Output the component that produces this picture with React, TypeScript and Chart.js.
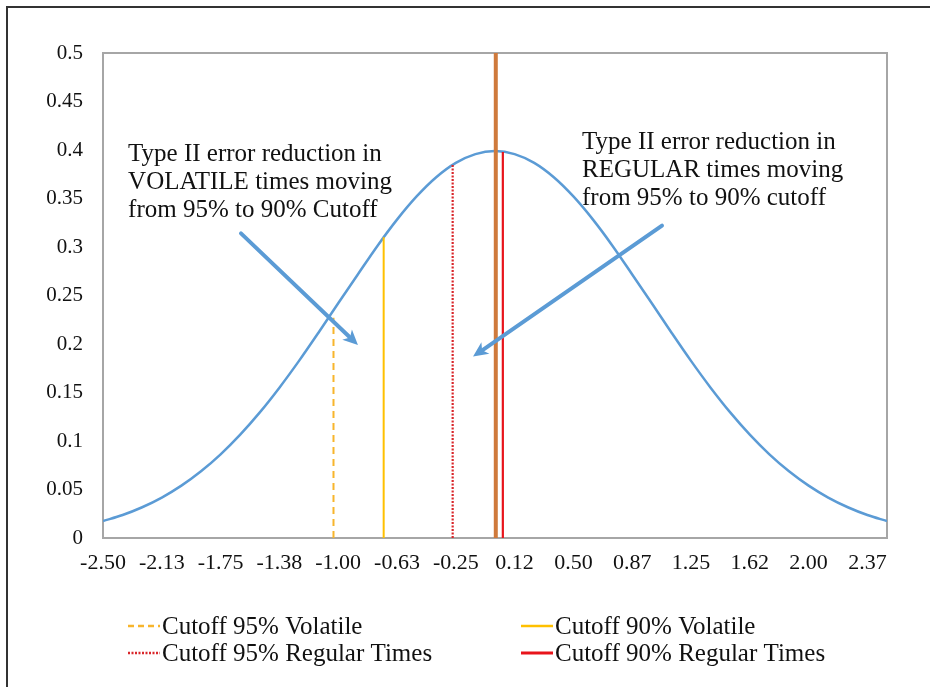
import React, { useEffect, useRef } from "react";
import { Chart, registerables } from "chart.js";

Chart.register(...registerables);

const X_VALUES = [
  -2.5, -2.375, -2.25, -2.125, -2.0, -1.875, -1.75, -1.625, -1.5, -1.375, -1.25,
  -1.125, -1.0, -0.875, -0.75, -0.625, -0.5, -0.375, -0.25, -0.125, 0.0,
  0.125, 0.25, 0.375, 0.5, 0.625, 0.75, 0.875, 1.0, 1.125, 1.25,
  1.375, 1.5, 1.625, 1.75, 1.875, 2.0, 2.125, 2.25, 2.375, 2.5,
];
const DENSITY = [
  0.0175, 0.0237, 0.0317, 0.0417, 0.054, 0.0688, 0.0863, 0.1066, 0.1295, 0.155, 0.1826,
  0.2119, 0.242, 0.2717, 0.3011, 0.3282, 0.3521, 0.3719, 0.3867, 0.3958, 0.3989,
  0.3958, 0.3867, 0.3719, 0.3521, 0.3282, 0.3011, 0.2717, 0.242, 0.2119, 0.1826,
  0.155, 0.1295, 0.1066, 0.0863, 0.0688, 0.054, 0.0417, 0.0317, 0.0237, 0.0175,
];

const X_TICKS = [-2.5, -2.125, -1.75, -1.375, -1.0, -0.625, -0.25, 0.125, 0.5, 0.875, 1.25, 1.625, 2.0, 2.375];
const X_TICK_LABELS = ["-2.50", "-2.13", "-1.75", "-1.38", "-1.00", "-0.63", "-0.25", "0.12", "0.50", "0.87", "1.25", "1.62", "2.00", "2.37"];
const Y_TICK_LABELS = ["0", "0.05", "0.1", "0.15", "0.2", "0.25", "0.3", "0.35", "0.4", "0.45", "0.5"];

// cutoff lines: [x, height]
const CUTOFF_95_VOLATILE = [-1.03, 0.227];
const CUTOFF_90_VOLATILE = [-0.71, 0.31];
const CUTOFF_95_REGULAR = [-0.27, 0.385];
const CUTOFF_90_REGULAR = [0.05, 0.398];
const CENTER_LINE = [0.005, 0.5];

const SERIES_NAMES = ["Cutoff 95% Volatile", "Cutoff 90% Volatile", "Cutoff 95% Regular Times", "Cutoff 90% Regular Times"];

const ANNOTATION_LEFT = ["Type II error reduction in", "VOLATILE times moving", "from 95% to 90% Cutoff"];
const ANNOTATION_RIGHT = ["Type II error reduction in", "REGULAR times moving", "from 95% to 90% cutoff"];
// [x, y] data coordinates
const ANNOTATION_LEFT_POS = [-2.34, 0.389];
const ANNOTATION_RIGHT_POS = [0.555, 0.401];
const ARROW_LEFT = [[-1.62, 0.314], [-0.874, 0.199]];
const ARROW_RIGHT = [[1.065, 0.322], [-0.14, 0.187]];

const FONT = "'Liberation Serif', 'Times New Roman', serif";
const BLUE = "#5B9BD5";
const GOLD = "#F7B52C";
const YELLOW = "#FFC000";
const DARK_RED = "#D9262A";
const RED = "#E8141B";
const ORANGE = "#CF7A3C";

const vline = (c: number[]) => [
  { x: c[0], y: 0 },
  { x: c[0], y: c[1] },
];

const LEGEND_ITEMS = [
  { label: SERIES_NAMES[0], color: GOLD, dash: [6, 4], width: 2.5, x: 128, y: 626 },
  { label: SERIES_NAMES[1], color: YELLOW, dash: [], width: 2.5, x: 521, y: 626 },
  { label: SERIES_NAMES[2], color: DARK_RED, dash: [2, 1.5], width: 2.5, x: 128, y: 653 },
  { label: SERIES_NAMES[3], color: RED, dash: [], width: 3, x: 521, y: 653 },
];

function drawArrow(ctx: CanvasRenderingContext2D, x1: number, y1: number, x2: number, y2: number) {
  const ang = Math.atan2(y2 - y1, x2 - x1);
  const headLen = 15;
  const headW = 7;
  const bx = x2 - headLen * Math.cos(ang);
  const by = y2 - headLen * Math.sin(ang);
  ctx.save();
  ctx.strokeStyle = BLUE;
  ctx.fillStyle = BLUE;
  ctx.lineWidth = 4;
  ctx.lineCap = "round";
  ctx.beginPath();
  ctx.moveTo(x1, y1);
  ctx.lineTo(bx + 3 * Math.cos(ang), by + 3 * Math.sin(ang));
  ctx.stroke();
  ctx.beginPath();
  ctx.moveTo(x2, y2);
  ctx.lineTo(bx + headW * Math.sin(ang), by - headW * Math.cos(ang));
  ctx.lineTo(bx + 4 * Math.cos(ang), by + 4 * Math.sin(ang));
  ctx.lineTo(bx - headW * Math.sin(ang), by + headW * Math.cos(ang));
  ctx.closePath();
  ctx.fill();
  ctx.restore();
}

const decorPlugin = {
  id: "decor",
  beforeDatasetsDraw(chart: any) {
    const { ctx, chartArea } = chart;
    ctx.save();
    ctx.strokeStyle = "#A6A6A6";
    ctx.lineWidth = 2;
    ctx.strokeRect(chartArea.left, chartArea.top, chartArea.right - chartArea.left, chartArea.bottom - chartArea.top);
    ctx.restore();
  },
  afterDatasetsDraw(chart: any) {
    const { ctx } = chart;
    const xs = chart.scales.x;
    const ys = chart.scales.y;
    const px = (v: number) => xs.getPixelForValue(v);
    const py = (v: number) => ys.getPixelForValue(v);
    drawArrow(ctx, px(ARROW_LEFT[0][0]), py(ARROW_LEFT[0][1]), px(ARROW_LEFT[1][0]), py(ARROW_LEFT[1][1]));
    drawArrow(ctx, px(ARROW_RIGHT[0][0]), py(ARROW_RIGHT[0][1]), px(ARROW_RIGHT[1][0]), py(ARROW_RIGHT[1][1]));

    ctx.save();
    ctx.fillStyle = "#111";
    ctx.font = `25px ${FONT}`;
    ctx.textBaseline = "alphabetic";
    ctx.textAlign = "left";
    ANNOTATION_LEFT.forEach((t, i) => {
      ctx.fillText(t, px(ANNOTATION_LEFT_POS[0]), py(ANNOTATION_LEFT_POS[1]) + i * 28);
    });
    ANNOTATION_RIGHT.forEach((t, i) => {
      ctx.fillText(t, px(ANNOTATION_RIGHT_POS[0]), py(ANNOTATION_RIGHT_POS[1]) + i * 28);
    });
    ctx.restore();
  },
  afterDraw(chart: any) {
    const { ctx } = chart;
    ctx.save();
    LEGEND_ITEMS.forEach((it) => {
      ctx.strokeStyle = it.color;
      ctx.lineWidth = it.width;
      ctx.setLineDash(it.dash);
      ctx.beginPath();
      ctx.moveTo(it.x, it.y);
      ctx.lineTo(it.x + 32, it.y);
      ctx.stroke();
      ctx.setLineDash([]);
      ctx.fillStyle = "#111";
      ctx.font = `25px ${FONT}`;
      ctx.textBaseline = "middle";
      ctx.textAlign = "left";
      ctx.fillText(it.label, it.x + 34, it.y + 1);
    });
    ctx.restore();
  },
};

export default function App() {
  const ref = useRef<HTMLCanvasElement>(null);

  useEffect(() => {
    if (!ref.current) return;
    document.body.style.overflow = "hidden";
    const curve = X_VALUES.map((x, i) => ({ x, y: DENSITY[i] }));
    const chart = new Chart(ref.current, {
      type: "scatter",
      data: {
        datasets: [
          {
            label: "Density",
            data: curve,
            showLine: true,
            borderColor: BLUE,
            borderWidth: 2.5,
            pointRadius: 0,
            cubicInterpolationMode: "monotone",
            order: 10,
          },
          {
            label: SERIES_NAMES[0],
            data: vline(CUTOFF_95_VOLATILE),
            showLine: true,
            borderColor: GOLD,
            borderWidth: 2,
            borderDash: [7, 5],
            pointRadius: 0,
            order: 5,
          },
          {
            label: SERIES_NAMES[1],
            data: vline(CUTOFF_90_VOLATILE),
            showLine: true,
            borderColor: YELLOW,
            borderWidth: 2,
            pointRadius: 0,
            order: 5,
          },
          {
            label: SERIES_NAMES[2],
            data: vline(CUTOFF_95_REGULAR),
            showLine: true,
            borderColor: DARK_RED,
            borderWidth: 2.2,
            borderDash: [2, 1.5],
            pointRadius: 0,
            order: 5,
          },
          {
            label: SERIES_NAMES[3],
            data: vline(CUTOFF_90_REGULAR),
            showLine: true,
            borderColor: RED,
            borderWidth: 2.2,
            pointRadius: 0,
            order: 5,
          },
          {
            label: "Center",
            data: vline(CENTER_LINE),
            showLine: true,
            borderColor: ORANGE,
            borderWidth: 4,
            pointRadius: 0,
            order: 4,
          },
        ],
      },
      options: {
        responsive: false,
        animation: false,
        layout: { padding: { top: 53, right: 43, left: 0, bottom: 0 } },
        plugins: { legend: { display: false }, tooltip: { enabled: false } },
        scales: {
          x: {
            type: "linear",
            min: -2.5,
            max: 2.5,
            grid: { display: false, drawTicks: false },
            border: { display: false },
            afterBuildTicks: (scale: any) => {
              scale.ticks = X_TICKS.map((v) => ({ value: v }));
            },
            afterFit: (scale: any) => {
              scale.height = 149;
            },
            ticks: {
              autoSkip: false,
              maxRotation: 0,
              padding: 12,
              color: "#111",
              font: { family: FONT, size: 22 },
              callback: (_v: any, i: number) => X_TICK_LABELS[i],
            },
          },
          y: {
            min: 0,
            max: 0.5,
            grid: { display: false, drawTicks: false },
            border: { display: false },
            afterFit: (scale: any) => {
              scale.width = 103;
            },
            ticks: {
              stepSize: 0.05,
              padding: 20,
              color: "#111",
              font: { family: FONT, size: 21 },
              callback: (_v: any, i: number) => Y_TICK_LABELS[i],
            },
          },
        },
      },
      plugins: [decorPlugin],
    } as any);
    return () => chart.destroy();
  }, []);

  return (
    <div style={{ position: "absolute", left: 0, top: 0, width: 930, height: 687, overflow: "hidden", background: "#fff" }}>
      <div
        style={{
          position: "absolute",
          left: 6,
          top: 6,
          width: 1000,
          height: 1000,
          borderTop: "2px solid #333",
          borderLeft: "2px solid #333",
        }}
      />
      <canvas ref={ref} width={930} height={687} style={{ position: "absolute", left: 0, top: 0 }} />
    </div>
  );
}
